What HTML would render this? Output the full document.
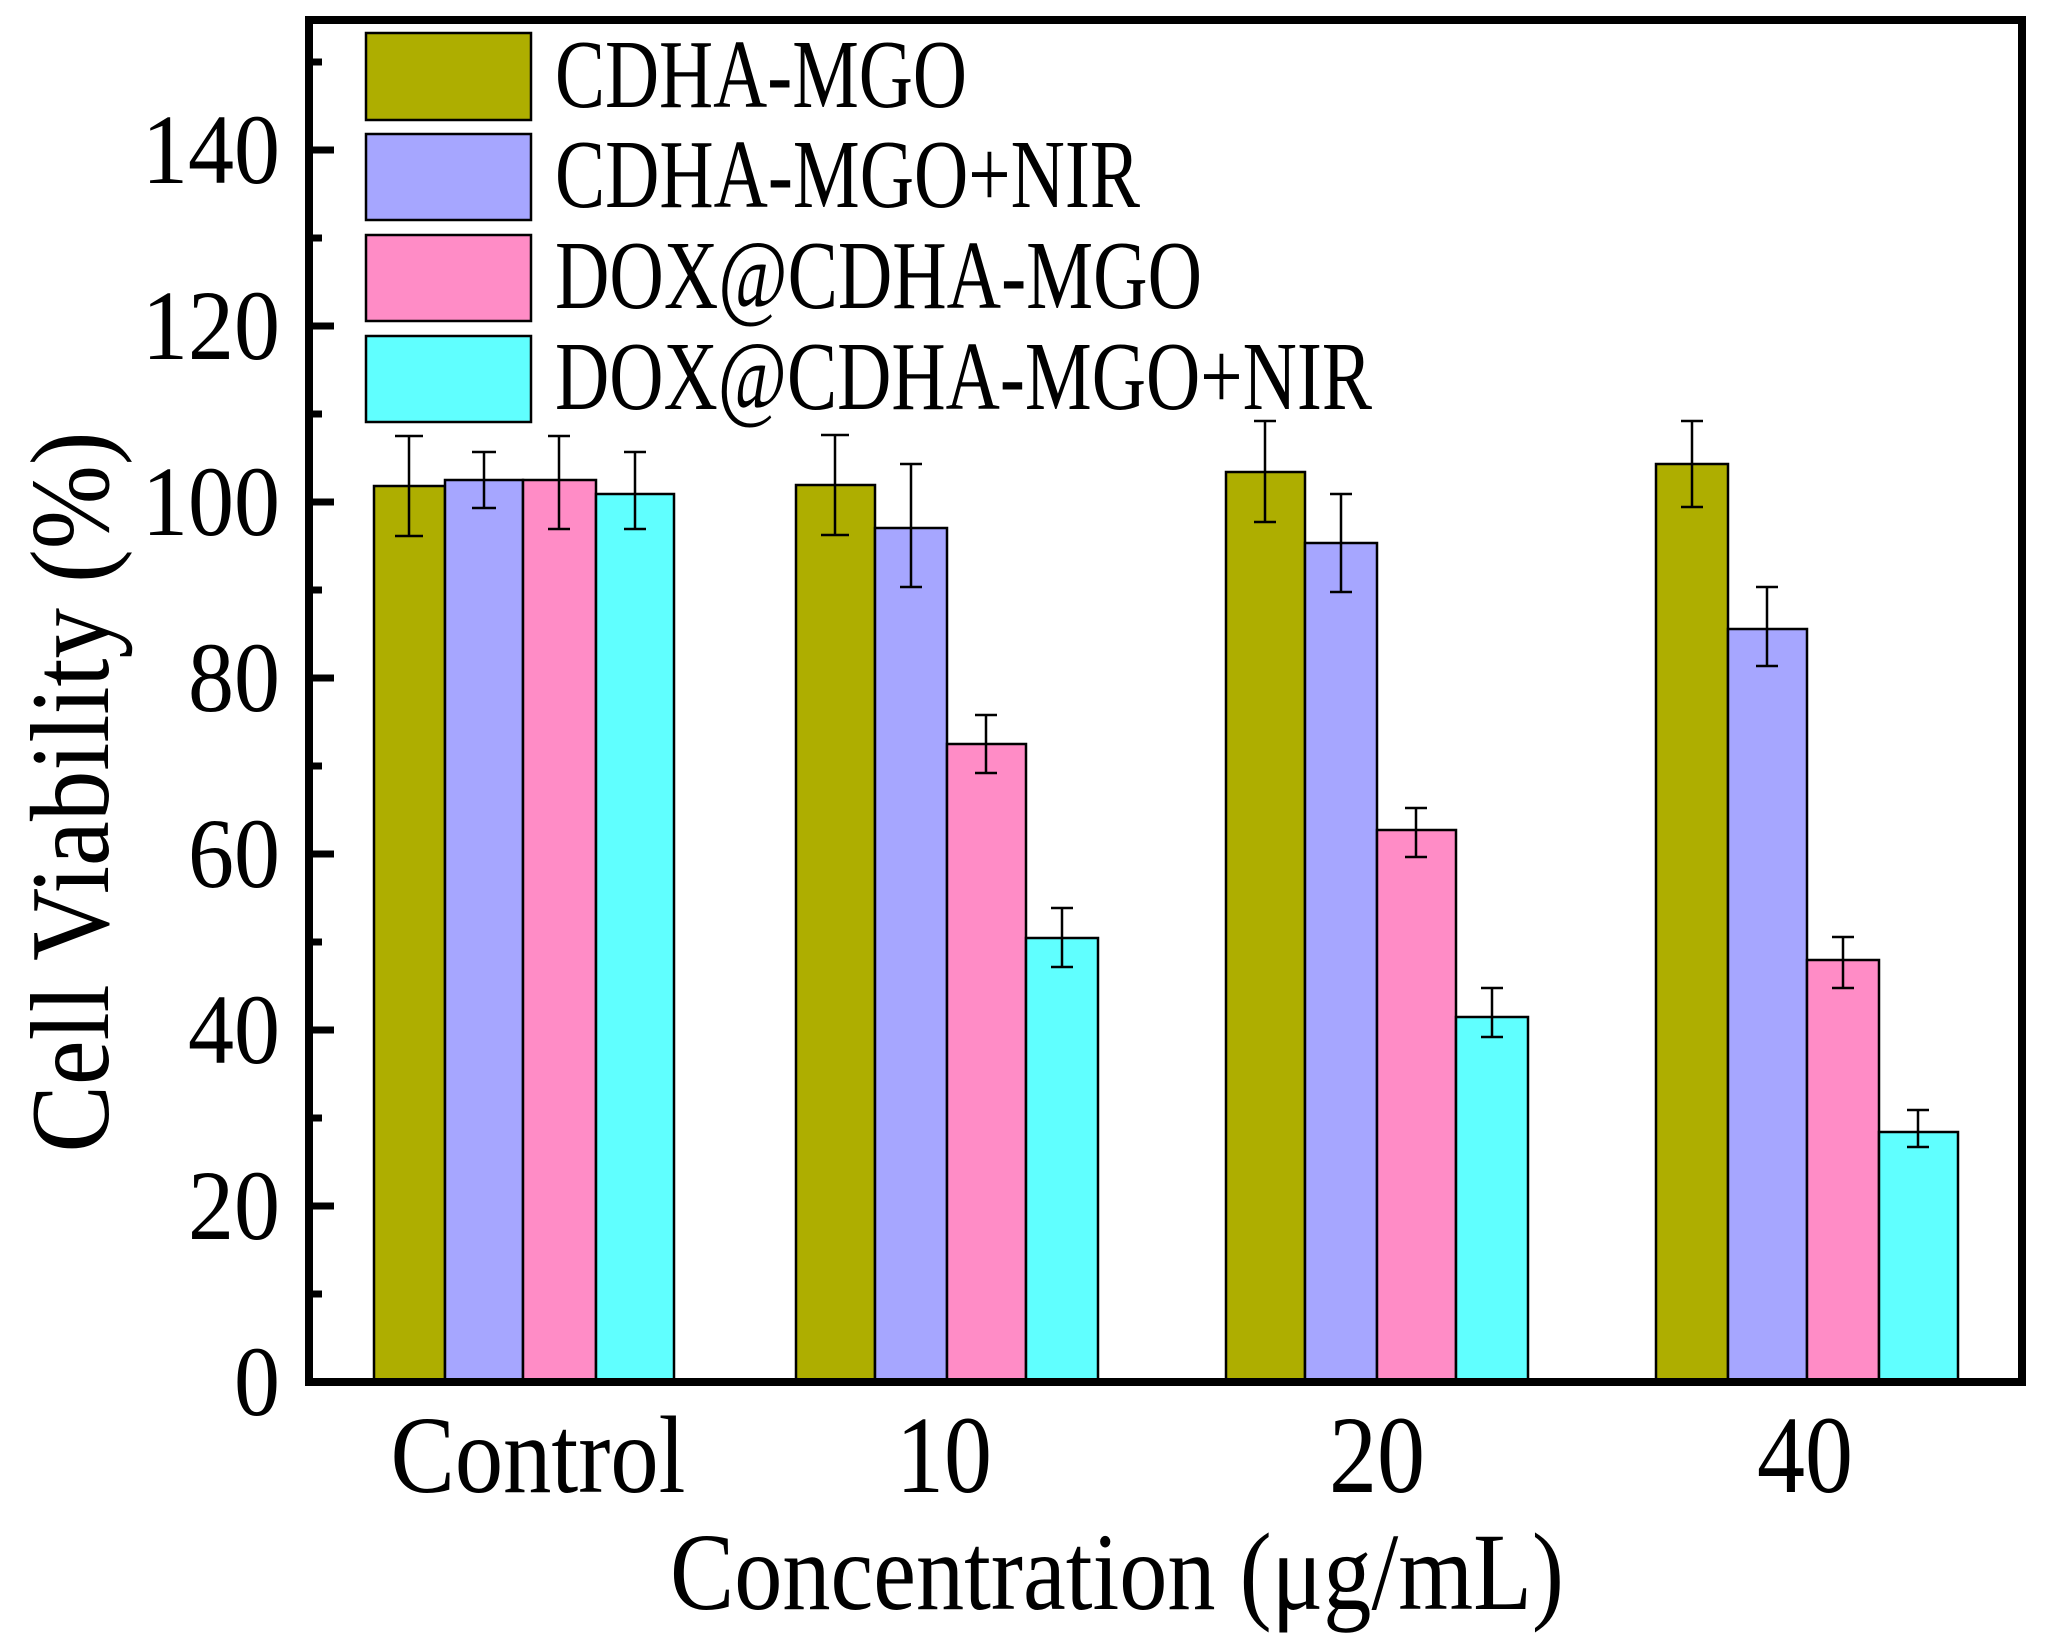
<!DOCTYPE html>
<html><head><meta charset="utf-8"><style>
html,body{margin:0;padding:0;background:#fff;}
svg{display:block;}
text{font-family:"Liberation Serif",serif;fill:#000;}
</style></head><body>
<svg width="2049" height="1645" viewBox="0 0 2049 1645" xmlns="http://www.w3.org/2000/svg">
<rect width="2049" height="1645" fill="#fff"/>
<g id="bars" stroke="#000" stroke-width="2.5">
<rect x="374" y="486" width="71" height="896" fill="#AEAE00"/>
<rect x="445" y="480" width="78" height="902" fill="#A6A6FF"/>
<rect x="523" y="480" width="73" height="902" fill="#FF8CC6"/>
<rect x="596" y="494" width="78" height="888" fill="#60FFFF"/>
<rect x="796" y="485" width="79" height="897" fill="#AEAE00"/>
<rect x="875" y="528" width="72" height="854" fill="#A6A6FF"/>
<rect x="947" y="744" width="79" height="638" fill="#FF8CC6"/>
<rect x="1026" y="938" width="72" height="444" fill="#60FFFF"/>
<rect x="1226" y="472" width="79" height="910" fill="#AEAE00"/>
<rect x="1305" y="543" width="72" height="839" fill="#A6A6FF"/>
<rect x="1377" y="830" width="79" height="552" fill="#FF8CC6"/>
<rect x="1456" y="1017" width="72" height="365" fill="#60FFFF"/>
<rect x="1656" y="464" width="72" height="918" fill="#AEAE00"/>
<rect x="1728" y="629" width="79" height="753" fill="#A6A6FF"/>
<rect x="1807" y="960" width="72" height="422" fill="#FF8CC6"/>
<rect x="1879" y="1132" width="79" height="250" fill="#60FFFF"/>
</g>
<g stroke="#000" stroke-width="2.5" fill="none">
<path d="M409 436V536M395 436H423M395 536H423"/>
<path d="M484 452V508M472 452H496M472 508H496"/>
<path d="M559 436V529M548 436H570M548 529H570"/>
<path d="M635 452V529M624 452H646M624 529H646"/>
<path d="M835 435V535M821 435H849M821 535H849"/>
<path d="M911 464V587M900 464H922M900 587H922"/>
<path d="M986 715V773M975 715H997M975 773H997"/>
<path d="M1062 908V967M1051 908H1073M1051 967H1073"/>
<path d="M1265 421V522M1254 421H1276M1254 522H1276"/>
<path d="M1341 494V592M1330 494H1352M1330 592H1352"/>
<path d="M1416 808V857M1405 808H1427M1405 857H1427"/>
<path d="M1492 988V1037M1481 988H1503M1481 1037H1503"/>
<path d="M1692 421V507M1681 421H1703M1681 507H1703"/>
<path d="M1767 587V666M1756 587H1778M1756 666H1778"/>
<path d="M1843 937V988M1832 937H1854M1832 988H1854"/>
<path d="M1918 1110V1147M1907 1110H1929M1907 1147H1929"/>
</g>
<rect x="309" y="20" width="1713" height="1362" fill="none" stroke="#000" stroke-width="8"/>
<g stroke="#000" stroke-width="7">
<path d="M309 1206H334M309 1030H334M309 854H334M309 678H334M309 502H334M309 326H334M309 150H334"/>
<path d="M309 1294H322M309 1118H322M309 942H322M309 766H322M309 590H322M309 414H322M309 238H322M309 62H322"/>
</g>
<g font-size="100" text-anchor="end">
<text x="280" y="1415" textLength="46" lengthAdjust="spacingAndGlyphs">0</text>
<text x="280" y="1239" textLength="92" lengthAdjust="spacingAndGlyphs">20</text>
<text x="280" y="1063" textLength="92" lengthAdjust="spacingAndGlyphs">40</text>
<text x="280" y="887" textLength="92" lengthAdjust="spacingAndGlyphs">60</text>
<text x="280" y="711" textLength="92" lengthAdjust="spacingAndGlyphs">80</text>
<text x="280" y="535" textLength="138" lengthAdjust="spacingAndGlyphs">100</text>
<text x="280" y="359" textLength="138" lengthAdjust="spacingAndGlyphs">120</text>
<text x="280" y="183" textLength="138" lengthAdjust="spacingAndGlyphs">140</text>
</g>
<g font-size="110" text-anchor="middle">
<text x="538" y="1492" textLength="295" lengthAdjust="spacingAndGlyphs">Control</text>
<text x="944" y="1492" textLength="96" lengthAdjust="spacingAndGlyphs">10</text>
<text x="1377" y="1492" textLength="96" lengthAdjust="spacingAndGlyphs">20</text>
<text x="1805" y="1492" textLength="96" lengthAdjust="spacingAndGlyphs">40</text>
</g>
<text x="1117" y="1609" font-size="110" text-anchor="middle" textLength="894" lengthAdjust="spacingAndGlyphs">Concentration (μg/mL)</text>
<text transform="translate(108,792) rotate(-90)" font-size="112" text-anchor="middle" textLength="721" lengthAdjust="spacingAndGlyphs">Cell Viability (%)</text>
<g stroke="#000" stroke-width="2.5">
<rect x="366" y="33" width="165" height="87" fill="#AEAE00"/>
<rect x="366" y="134" width="165" height="86" fill="#A6A6FF"/>
<rect x="366" y="235" width="165" height="86" fill="#FF8CC6"/>
<rect x="366" y="336" width="165" height="86" fill="#60FFFF"/>
</g>
<g font-size="98">
<text x="555" y="107" textLength="412" lengthAdjust="spacingAndGlyphs">CDHA-MGO</text>
<text x="555" y="207" textLength="585" lengthAdjust="spacingAndGlyphs">CDHA-MGO+NIR</text>
<text x="555" y="308" textLength="647" lengthAdjust="spacingAndGlyphs">DOX@CDHA-MGO</text>
<text x="555" y="409" textLength="817" lengthAdjust="spacingAndGlyphs">DOX@CDHA-MGO+NIR</text>
</g>
</svg>
</body></html>
